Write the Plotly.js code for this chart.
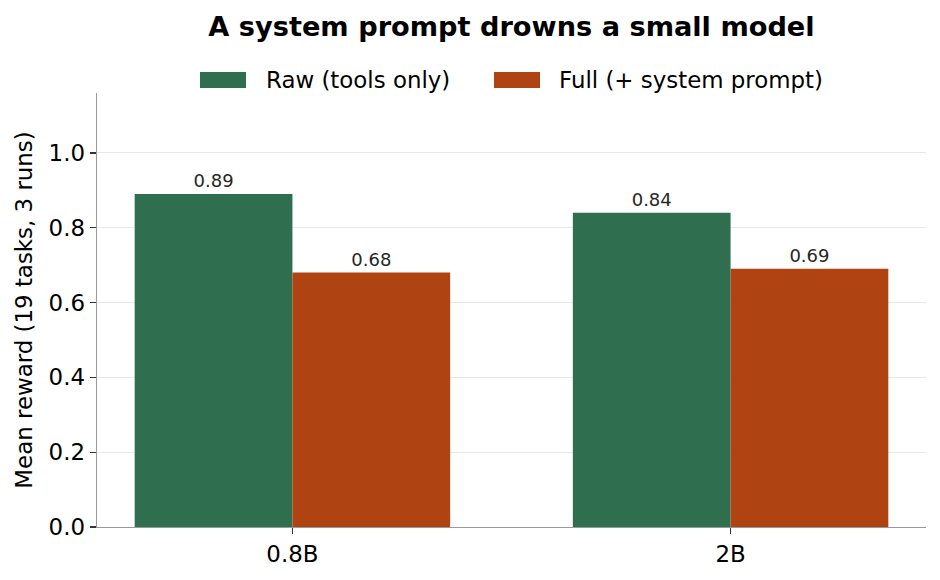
<!DOCTYPE html>
<html>
<head>
<meta charset="utf-8">
<script src="https://cdn.plot.ly/plotly-3.0.1.min.js"></script>
<style>
  html, body { margin: 0; padding: 0; background: #ffffff; }
  #chart { width: 940px; height: 580px; }
</style>
</head>
<body>
<div id="chart"></div>
<script>
// Model sizes on the x axis
const models = ['0.8B', '2B'];
// Mean reward per model, averaged over 19 tasks and 3 runs
const rawReward = [0.89, 0.84];
const fullReward = [0.68, 0.69];
// Series names and colours
const seriesNames = ['Raw (tools only)', 'Full (+ system prompt)'];
const seriesColors = ['#2f6f4f', '#af4311'];
// Y axis ticks
const yTicks = [0, 0.2, 0.4, 0.6, 0.8, 1.0];

const W = 940, H = 580;
const M = { l: 97, r: 14, t: 93, b: 53 };
const plotW = W - M.l - M.r, plotH = H - M.t - M.b;
const FONT = 'DejaVu Sans, sans-serif';
const LABEL_SIZE = 22.9;

// pixel -> paper helpers for the legend placed above the plot area
const px = x => (x - M.l) / plotW;
const py = y => (H - M.b - y) / plotH;

function barTrace(name, values, color) {
  return {
    type: 'bar',
    name: name,
    x: models,
    y: values,
    marker: { color: color, line: { width: 0 } },
    text: values.map(v => v.toFixed(2)),
    textposition: 'outside',
    textfont: { family: FONT, size: 18, color: '#262626' },
    cliponaxis: false,
    showlegend: false,
    hoverinfo: 'x+y+name'
  };
}

const data = [
  barTrace(seriesNames[0], rawReward, seriesColors[0]),
  barTrace(seriesNames[1], fullReward, seriesColors[1])
];

// Legend: wide swatches with labels, centred over the plot
const legendItems = [
  { sw: [200, 246], tx: 264 },
  { sw: [494, 540], tx: 557 }
];
const shapes = [];
const annotations = [];
legendItems.forEach((it, i) => {
  shapes.push({
    type: 'rect', xref: 'paper', yref: 'paper',
    x0: px(it.sw[0]), x1: px(it.sw[1]), y0: py(88), y1: py(72),
    fillcolor: seriesColors[i], line: { width: 0 }
  });
  annotations.push({
    xref: 'paper', yref: 'paper', x: px(it.tx), y: py(80),
    xanchor: 'left', yanchor: 'middle', showarrow: false,
    text: seriesNames[i], font: { family: FONT, size: LABEL_SIZE, color: '#000' }
  });
});

const layout = {
  width: W, height: H,
  margin: M,
  paper_bgcolor: '#ffffff',
  plot_bgcolor: '#ffffff',
  font: { family: FONT, color: '#000' },
  title: {
    text: '<b>A system prompt drowns a small model</b>',
    font: { family: FONT, size: 27.2, color: '#000' },
    x: (M.l + plotW / 2) / W, xanchor: 'center', xref: 'container',
    y: 1 - 26 / H, yanchor: 'middle', yref: 'container'
  },
  barmode: 'group',
  bargap: 0.28,
  bargroupgap: 0,
  xaxis: {
    type: 'category',
    range: [-0.446, 1.446],
    showgrid: false,
    showline: true, linecolor: '#999999', linewidth: 1.4,
    ticks: 'outside', ticklen: 6, tickwidth: 1.3, tickcolor: '#333333',
    tickfont: { family: FONT, size: LABEL_SIZE, color: '#000' },
    zeroline: false
  },
  yaxis: {
    range: [0, 1.16],
    tickvals: yTicks,
    ticktext: yTicks.map(v => v.toFixed(1)),
    showgrid: true, gridcolor: '#e8e8e8', gridwidth: 1,
    showline: true, linecolor: '#999999', linewidth: 1.4,
    ticks: 'outside', ticklen: 6, tickwidth: 1.3, tickcolor: '#333333',
    tickfont: { family: FONT, size: LABEL_SIZE, color: '#000' },
    zeroline: false,
    title: {
      text: 'Mean reward (19 tasks, 3 runs)',
      font: { family: FONT, size: LABEL_SIZE, color: '#000' },
      standoff: 9
    }
  },
  shapes: shapes,
  annotations: annotations
};

Plotly.newPlot('chart', data, layout, { displayModeBar: false, staticPlot: true });
</script>
</body>
</html>
